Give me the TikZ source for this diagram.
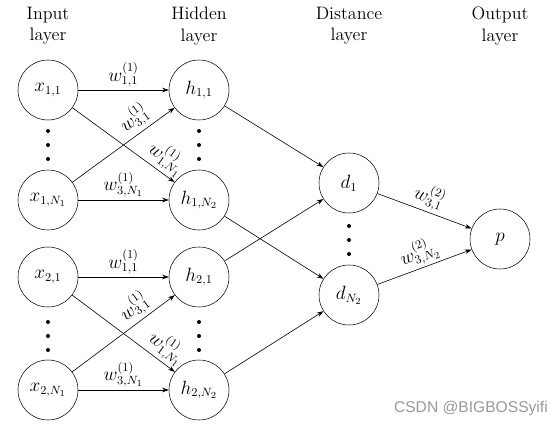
\documentclass[tikz,border=0pt]{standalone}
\usepackage{fontspec}
\newfontfamily\wmfont{Liberation Sans}
\usetikzlibrary{arrows.meta}
\begin{document}
\begin{tikzpicture}[x=0.75pt,y=-0.75pt,
  every node/.style={font=\fontsize{13.5}{16}\selectfont},
  neuron/.style={draw,circle,minimum size=45pt,inner sep=0pt},
  title/.style={align=center},
  conn/.style={-{Stealth[length=5pt,width=3.5pt]},line width=0.45pt},
  wlabel/.style={sloped,above,inner sep=2pt},
  hlabel/.style={above,inner sep=2pt},
  dotstyle/.style={fill,circle,inner sep=0pt,minimum size=3pt}]
\useasboundingbox (0,0) rectangle (560,427);
% titles
\node[title] (tin) at (48,26) {Input\\layer};
\node[title] (thid) at (199,26) {Hidden\\layer};
\node[title] (tdist) at (349,26) {Distance\\layer};
\node[title] (tout) at (500,26) {Output\\layer};
% input nodes
\node[neuron] (x11) at (48,90) {$x_{1,1}$};
\node[neuron] (x1N) at (48,200) {$x_{1,N_1}$};
\node[neuron] (x21) at (48,277) {$x_{2,1}$};
\node[neuron] (x2N) at (48,390) {$x_{2,N_1}$};
% hidden nodes
\node[neuron] (h11) at (199,90) {$h_{1,1}$};
\node[neuron] (h1N) at (199,200) {$h_{1,N_2}$};
\node[neuron] (h21) at (199,277) {$h_{2,1}$};
\node[neuron] (h2N) at (199,390) {$h_{2,N_2}$};
% distance nodes
\node[neuron] (d1) at (349,183) {$d_1$};
\node[neuron] (dN) at (349,295) {$d_{N_2}$};
% output
\node[neuron] (p) at (500,239) {$p$};
% dots
\foreach \cx/\ya/\nm in {48/131/a,199/131/b,48/322/c,199/322/d,349/226/e}{
  \node[dotstyle] (dot\nm1) at (\cx,\ya) {};
  \node[dotstyle] (dot\nm2) at (\cx,\ya+14) {};
  \node[dotstyle] (dot\nm3) at (\cx,\ya+28) {};
}
% first group
\draw[conn] (x11) -- node[hlabel] {$w^{(1)}_{1,1}$} (h11);
\draw[conn] (x11) -- node[wlabel,pos=0.84] {$w^{(1)}_{1,N_1}$} (h1N);
\draw[conn] (x1N) -- node[wlabel,pos=0.69] {$w^{(1)}_{3,1}$} (h11);
\draw[conn] (x1N) -- node[hlabel] {$w^{(1)}_{3,N_1}$} (h1N);
% second group
\draw[conn] (x21) -- node[hlabel] {$w^{(1)}_{1,1}$} (h21);
\draw[conn] (x21) -- node[wlabel,pos=0.84] {$w^{(1)}_{1,N_1}$} (h2N);
\draw[conn] (x2N) -- node[wlabel,pos=0.69] {$w^{(1)}_{3,1}$} (h21);
\draw[conn] (x2N) -- node[hlabel] {$w^{(1)}_{3,N_1}$} (h2N);
% hidden to distance
\draw[conn] (h11) -- (d1);
\draw[conn] (h21) -- (d1);
\draw[conn] (h1N) -- (dN);
\draw[conn] (h2N) -- (dN);
% distance to output
\draw[conn] (d1) -- node[wlabel,pos=0.5] {$w^{(2)}_{3,1}$} (p);
\draw[conn] (dN) -- node[wlabel,pos=0.5] {$w^{(2)}_{3,N_2}$} (p);
% watermark
\node[anchor=east,text=black!40,font=\wmfont\fontsize{11.7}{13}\selectfont,inner sep=0pt] (wm) at (548,408) {CSDN @BIGBOSSyifi};
\end{tikzpicture}
\end{document}
